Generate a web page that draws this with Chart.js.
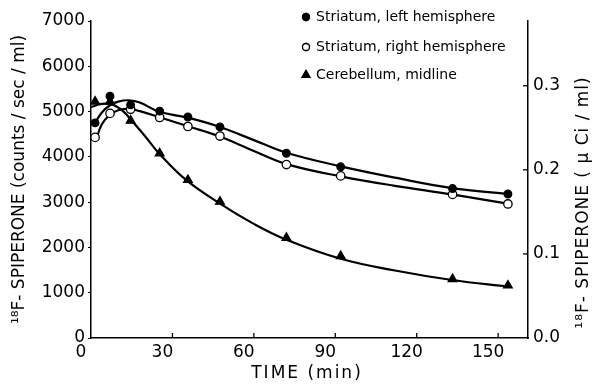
<!DOCTYPE html>
<html>
<head>
<meta charset="utf-8">
<script src="https://cdn.jsdelivr.net/npm/chart.js@4"></script>
<style>
  html, body { margin: 0; padding: 0; background: #fff; }
  #wrap { width: 600px; height: 387px; }
</style>
</head>
<body>
<div id="wrap"><canvas id="spiperoneChart"></canvas></div>
<script>
// Datos
const seriesNames = ['Striatum, left hemisphere', 'Striatum, right hemisphere', 'Cerebellum, midline'];
const times = [1.5, 7, 14.6, 25.3, 35.7, 47.5, 72, 92, 133.2, 153.6]; // min
const striatumLeft = [4750, 5340, 5150, 5010, 4880, 4660, 4080, 3780, 3300, 3180];
const striatumRight = [4430, 4960, 5050, 4870, 4670, 4460, 3830, 3580, 3170, 2960];
const cerebellum = [5220, 5220, 4800, 4080, 3490, 3010, 2210, 1810, 1300, 1160];

// curvas ajustadas (trazadas a mano en la figura)
const leftCurveT = [1, 4, 7, 10, 14, 18, 25, 36, 47, 60, 72, 92, 112, 133, 154];
const leftCurve = [4700, 4980, 5140, 5220, 5250, 5200, 5000, 4860, 4670, 4370, 4090, 3790, 3540, 3310, 3180];
const rightCurveT = [2, 4, 7, 10, 14, 18, 25, 36, 47, 60, 72, 92, 112, 133, 154];
const rightCurve = [4400, 4720, 4930, 5030, 5060, 5010, 4880, 4670, 4460, 4130, 3840, 3570, 3360, 3170, 2960];
const cerebCurveT = [0, 4, 8, 12, 15, 20, 25, 35, 48, 60, 72, 92, 112, 133, 154];
const cerebCurve = [5100, 5170, 5150, 5000, 4800, 4450, 4080, 3490, 2950, 2520, 2170, 1750, 1490, 1280, 1130];

const xTicks = [0, 30, 60, 90, 120, 150];
const yTicks = [0, 1000, 2000, 3000, 4000, 5000, 6000, 7000];
const y2Ticks = [0, 0.1, 0.2, 0.3];

const toXY = (xs, ys) => xs.map((x, i) => ({ x: x, y: ys[i] }));
const FONT = 'DejaVu Sans';

function curve(xs, ys) {
    return {
        type: 'line',
        data: toXY(xs, ys),
        borderColor: '#000',
        borderWidth: 2.2,
        pointRadius: 0,
        tension: 0.4,
        fill: false,
        order: 2
    };
}
function points(ys, style, fill, r) {
    return {
        type: 'scatter',
        data: toXY(times, ys),
        showLine: false,
        pointStyle: style,
        pointRadius: r,
        pointBackgroundColor: fill,
        pointBorderColor: '#000',
        pointBorderWidth: 1.3,
        order: 1
    };
}

// marcas hacia dentro, leyenda y titulos
const extras = {
    id: 'extras',
    afterDraw(chart) {
        const ctx = chart.ctx;
        const x = chart.scales.x, y2 = chart.scales.y2;
        const area = chart.chartArea;
        ctx.save();
        ctx.strokeStyle = '#000';
        ctx.lineWidth = 1.3;
        xTicks.slice(1).forEach(v => {
            const px = x.getPixelForValue(v);
            ctx.beginPath(); ctx.moveTo(px, area.bottom); ctx.lineTo(px, area.bottom - 5); ctx.stroke();
        });
        y2Ticks.slice(1).forEach(v => {
            const py = y2.getPixelForValue(v);
            ctx.beginPath(); ctx.moveTo(area.right, py); ctx.lineTo(area.right - 5, py); ctx.stroke();
        });

        // leyenda
        const styles = ['circle', 'circle', 'triangle'];
        const fills = ['#000', '#fff', '#000'];
        const rows = [17, 47, 75];
        ctx.font = '14px ' + FONT;
        ctx.textBaseline = 'middle';
        seriesNames.forEach((name, i) => {
            ctx.fillStyle = fills[i];
            Chart.helpers.drawPoint(ctx, { pointStyle: styles[i], radius: styles[i] === 'triangle' ? 4.5 : 3.5, borderWidth: 1.2 }, 306, rows[i]);
            ctx.fill();
            ctx.stroke();
            ctx.fillStyle = '#000';
            ctx.fillText(name, 316, rows[i]);
        });

        // titulo eje x
        ctx.textAlign = 'center';
        ctx.font = '17px ' + FONT;
        ctx.letterSpacing = '2px';
        ctx.fillText('TIME (min)', 307, 374);

        // titulo eje derecho (leido de abajo hacia arriba)
        ctx.letterSpacing = '1px';
        ctx.translate(584, (area.top + area.bottom) / 2 + 23);
        ctx.rotate(-Math.PI / 2);
        ctx.fillText('\u00B9\u2078F- SPIPERONE ( \u03BC Ci / ml)', 0, 0);
        ctx.restore();
    }
};

const ctx = document.getElementById('spiperoneChart').getContext('2d');
const spiperoneChart = new Chart(ctx, {
    data: {
        datasets: [
            points(striatumLeft, 'circle', '#000', 3.8),
            points(striatumRight, 'circle', '#fff', 4.2),
            points(cerebellum, 'triangle', '#000', 5),
            curve(leftCurveT, leftCurve),
            curve(rightCurveT, rightCurve),
            curve(cerebCurveT, cerebCurve)
        ]
    },
    options: {
        responsive: true,
        maintainAspectRatio: false,
        animation: false,
        layout: { padding: { top: 21, left: 0, right: 0, bottom: 0 } },
        plugins: {
            legend: { display: false },
            tooltip: { enabled: false }
        },
        scales: {
            x: {
                type: 'linear',
                min: 0,
                max: 161,
                afterFit(s) { s.height = 49; },
                afterBuildTicks(s) { s.ticks = xTicks.map(v => ({ value: v })); },
                border: { color: '#000', width: 1.5 },
                grid: { display: true, drawOnChartArea: false, drawTicks: false },
                ticks: { color: '#000', font: { family: FONT, size: 17 }, padding: 4, labelOffset: -10, maxRotation: 0 }
            },
            y: {
                position: 'left',
                min: 0,
                max: 7000,
                afterFit(s) { s.width = 91; },
                afterBuildTicks(s) { s.ticks = yTicks.map(v => ({ value: v })); },
                border: { color: '#000', width: 1.5 },
                grid: { drawOnChartArea: false, drawTicks: true, tickLength: 3, color: '#000' },
                ticks: { color: '#000', font: { family: FONT, size: 17 }, padding: 3, callback: v => String(v) },
                title: { display: true, text: '\u00B9\u2078F- SPIPERONE (counts / sec / ml)', color: '#000', font: { family: FONT, size: 17 }, padding: { top: 9, bottom: 0 } }
            },
            y2: {
                position: 'right',
                min: 0,
                max: 0.377,
                afterFit(s) { s.width = 72; },
                afterBuildTicks(s) { s.ticks = y2Ticks.map(v => ({ value: v })); },
                border: { color: '#000', width: 1.5 },
                grid: { drawOnChartArea: false, drawTicks: false },
                ticks: { color: '#000', font: { family: FONT, size: 17 }, padding: 5, callback: v => v.toFixed(1) }
            }
        }
    },
    plugins: [extras]
});
</script>
</body>
</html>
